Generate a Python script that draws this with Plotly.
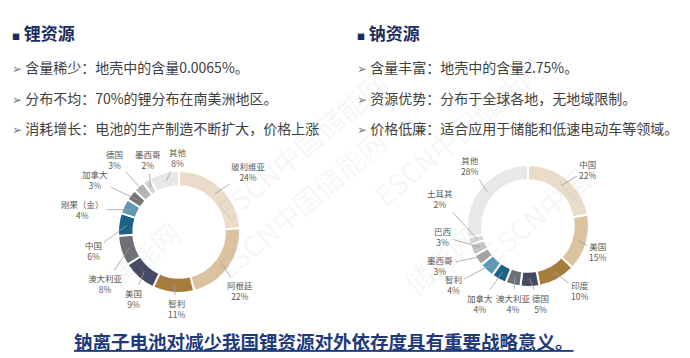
import math
import plotly.graph_objects as go

# ---------------- data ----------------
li_labels = ["玻利维亚", "阿根廷", "智利", "美国", "澳大利亚", "中国", "刚果（金）", "加拿大", "德国", "墨西哥", "其他"]
li_values = [24, 22, 11, 9, 8, 6, 4, 3, 3, 2, 8]

na_labels = ["中国", "美国", "印度", "德国", "澳大利亚", "加拿大", "智利", "墨西哥", "巴西", "土耳其", "其他"]
na_values = [22, 15, 10, 5, 4, 4, 4, 3, 3, 2, 28]

li_title = "锂资源"
li_points = ["含量稀少：地壳中的含量0.0065%。",
             "分布不均：70%的锂分布在南美洲地区。",
             "消耗增长：电池的生产制造不断扩大，价格上涨"]
na_title = "钠资源"
na_points = ["含量丰富：地壳中的含量2.75%。",
             "资源优势：分布于全球各地，无地域限制。",
             "价格低廉：适合应用于储能和低速电动车等领域。"]
conclusion = "钠离子电池对减少我国锂资源对外依存度具有重要战略意义。"

# ---------------- styles ----------------
li_colors = ["#EADCC8", "#DCC39F", "#A67D3C", "#464A63", "#6D7074", "#1C6286",
             "#5E98B8", "#747474", "#B4B4B4", "#D2D2D2", "#E7E7E7"]
na_colors = ["#EADCC8", "#DCC39F", "#A67D3C", "#464A63", "#6D7074", "#1C6286",
             "#5E98B8", "#A3A3A3", "#C3C3C3", "#D6D6D6", "#E8E8E8"]

# label placement (angle clockwise from 12 o'clock, radius factor)
li_label_ang = [49, 134, 182, 214.5, 235, 258, 283, 302, 318.6, 337, 359]
li_label_k = [1.52, 1.38, 1.26, 1.33, 1.48, 1.44, 1.62, 1.62, 1.59, 1.29, 1.22]
na_label_ang = [46.7, 110.4, 141.3, 171.2, 190.9, 211.8, 231.8, 245.8, 263, 287.4, 316.2]
na_label_k = [1.35, 1.22, 1.36, 1.29, 1.29, 1.5, 1.56, 1.58, 1.42, 1.51, 1.37]

# page body has an 8px margin: figure is placed at (8, 8)
OFF = 8
W, H = 690 - OFF, 358 - OFF
CJK = "Noto Sans CJK SC"
NAVY = "#1B2C5E"
TEXT = "#404040"
LABEL = "#595959"

li_center, na_center, R = (179, 232), (528, 226), 61


def paper(px, py):
    """reference window pixels -> paper coordinates"""
    return (px - OFF) / W, 1 - (py - OFF) / H


fig = go.Figure()
annotations = []


def add_donut(labels, values, colors, center, ang, kk):
    cx, cy = center
    x0, y1 = paper(cx - R, cy - R)
    x1, y0 = paper(cx + R, cy + R)
    fig.add_trace(go.Pie(
        labels=labels, values=values, sort=False, direction="clockwise", rotation=0,
        hole=0.75, textinfo="none", hoverinfo="label+percent",
        marker=dict(colors=colors, line=dict(color="white", width=2)),
        domain=dict(x=[x0, x1], y=[y0, y1]), showlegend=False,
    ))
    total = sum(values)
    cum = 0
    for name, v, a, k in zip(labels, values, ang, kk):
        mid = math.radians((cum + v / 2) / total * 360)
        cum += v
        px = cx + 0.86 * R * math.sin(mid)
        py = cy - 0.86 * R * math.cos(mid)
        la = math.radians(a)
        lx = cx + k * R * math.sin(la)
        ly = cy - k * R * math.cos(la)
        xp, yp = paper(px, py)
        annotations.append(dict(
            x=xp, y=yp, xref="paper", yref="paper",
            ax=lx - px, ay=ly - py, axref="pixel", ayref="pixel",
            text=f"{name}<br>{v}%", showarrow=True, arrowhead=0,
            arrowwidth=0.8, arrowcolor="#A0A0A0", startstandoff=1,
            font=dict(family=CJK, size=8.5, color=LABEL), align="center",
        ))


add_donut(li_labels, li_values, li_colors, li_center, li_label_ang, li_label_k)
add_donut(na_labels, na_values, na_colors, na_center, na_label_ang, na_label_k)


def add_block(x_px, title, points):
    xt, yt = paper(x_px - 2, 33)
    annotations.append(dict(
        x=xt, y=yt, xref="paper", yref="paper", xanchor="left", yanchor="middle",
        showarrow=False,
        text=f"<span style='font-size:8px'>■</span> <b>{title}</b>",
        font=dict(family=CJK, size=17, color=NAVY),
    ))
    for i, p in enumerate(points):
        xp, yp = paper(x_px - 2, 67 + 30.5 * i)
        annotations.append(dict(
            x=xp, y=yp, xref="paper", yref="paper", xanchor="left", yanchor="middle",
            showarrow=False,
            text=f"<span style='color:#7F7F7F;font-size:12px'>➢</span> {p}",
            font=dict(family=CJK, size=14, color=TEXT),
        ))


add_block(12, li_title, li_points)
add_block(357, na_title, na_points)

xc, yc = paper(324, 341)
annotations.append(dict(
    x=xc, y=yc, xref="paper", yref="paper", xanchor="center", yanchor="middle",
    showarrow=False, text=f"<b>{conclusion}</b>",
    font=dict(family=CJK, size=18.5, color="#1F3A7C", lineposition="under"),
))

# faint watermarks
for (wx, wy, s) in [(205, 60, "ESCN中国储能网"), (555, 45, "ESCN中国储能网"),
                    (300, 205, "ESCN中国储能网"), (600, 215, "ESCN中国"),
                    (95, 300, "储能网"), (440, 305, "储能网")]:
    xw, yw = paper(wx, wy)
    annotations.append(dict(
        x=xw, y=yw, xref="paper", yref="paper", showarrow=False, text=s,
        textangle=-40, font=dict(family=CJK, size=28, color="rgba(160,160,160,0.10)"),
    ))

fig.update_layout(
    width=W, height=H, margin=dict(l=0, r=0, t=0, b=0),
    paper_bgcolor="white", plot_bgcolor="white",
    annotations=annotations,
)

fig.write_html("out.html")
